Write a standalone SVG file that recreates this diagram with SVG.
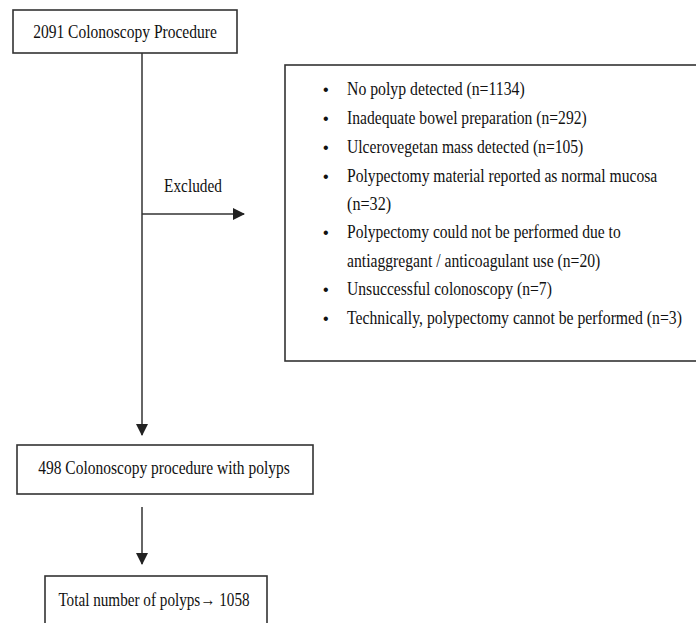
<svg xmlns="http://www.w3.org/2000/svg" width="696" height="623" viewBox="0 0 696 623">
<style>
.box{fill:#fff;stroke:#333;stroke-width:1.6}
.t{font-family:"Liberation Serif","Times New Roman",serif;font-size:19px;fill:#111}
.b{font-family:"Liberation Sans",Arial,sans-serif;font-size:16px;fill:#111}
.ln{stroke:#333;stroke-width:1.5;fill:none}
</style>
<defs>
<marker id="ah" markerWidth="12" markerHeight="12" refX="11" refY="6" orient="auto" markerUnits="userSpaceOnUse">
<path d="M0,0 L12,6 L0,12 Z" fill="#222"/>
</marker>
</defs>
<rect width="696" height="623" fill="#fff"/>
<g id="connectors">
<line class="ln" x1="142" y1="53" x2="142" y2="435" marker-end="url(#ah)"/>
<line class="ln" x1="142" y1="214" x2="244" y2="214" marker-end="url(#ah)"/>
<line class="ln" x1="142" y1="507" x2="142" y2="564" marker-end="url(#ah)"/>
<text class="t" transform="translate(193 192) scale(0.85 1)" text-anchor="middle" textLength="68" lengthAdjust="spacingAndGlyphs">Excluded</text>
</g>
<g id="n1">
<rect class="box" x="13" y="10" width="224" height="43"/>
<text class="t" transform="translate(125 38) scale(0.85 1)" text-anchor="middle" textLength="216" lengthAdjust="spacingAndGlyphs">2091 Colonoscopy Procedure</text>
</g>
<g id="n2">
<rect class="box" x="285" y="65" width="420" height="296"/>
<g class="b">
<text x="323" y="95">•</text>
<text x="323" y="124">•</text>
<text x="323" y="153">•</text>
<text x="323" y="182">•</text>
<text x="323" y="238">•</text>
<text x="323" y="295">•</text>
<text x="323" y="324">•</text>
</g>
<g class="t">
<text transform="translate(347 95) scale(0.85 1)" textLength="209" lengthAdjust="spacingAndGlyphs">No polyp detected (n=1134)</text>
<text transform="translate(347 124) scale(0.85 1)" textLength="282" lengthAdjust="spacingAndGlyphs">Inadequate bowel preparation (n=292)</text>
<text transform="translate(347 153) scale(0.85 1)" textLength="278" lengthAdjust="spacingAndGlyphs">Ulcerovegetan mass detected (n=105)</text>
<text transform="translate(347 182) scale(0.85 1)" textLength="365" lengthAdjust="spacingAndGlyphs">Polypectomy material reported as normal mucosa</text>
<text transform="translate(347 210) scale(0.85 1)" textLength="52" lengthAdjust="spacingAndGlyphs">(n=32)</text>
<text transform="translate(347 238) scale(0.85 1)" textLength="322" lengthAdjust="spacingAndGlyphs">Polypectomy could not be performed due to</text>
<text transform="translate(347 267) scale(0.85 1)" textLength="298" lengthAdjust="spacingAndGlyphs">antiaggregant / anticoagulant use (n=20)</text>
<text transform="translate(347 295) scale(0.85 1)" textLength="241" lengthAdjust="spacingAndGlyphs">Unsuccessful colonoscopy (n=7)</text>
<text transform="translate(347 324) scale(0.85 1)" textLength="394" lengthAdjust="spacingAndGlyphs">Technically, polypectomy cannot be performed (n=3)</text>
</g>
</g>
<g id="n3">
<rect class="box" x="17" y="445" width="296" height="49"/>
<text class="t" transform="translate(164 474) scale(0.85 1)" text-anchor="middle" textLength="296" lengthAdjust="spacingAndGlyphs">498 Colonoscopy procedure with polyps</text>
</g>
<g id="n4">
<rect class="box" x="45" y="576" width="222" height="60"/>
<text class="t" transform="translate(154 606) scale(0.8 1)" text-anchor="middle">Total number of polyps→ 1058</text>
</g>
</svg>
